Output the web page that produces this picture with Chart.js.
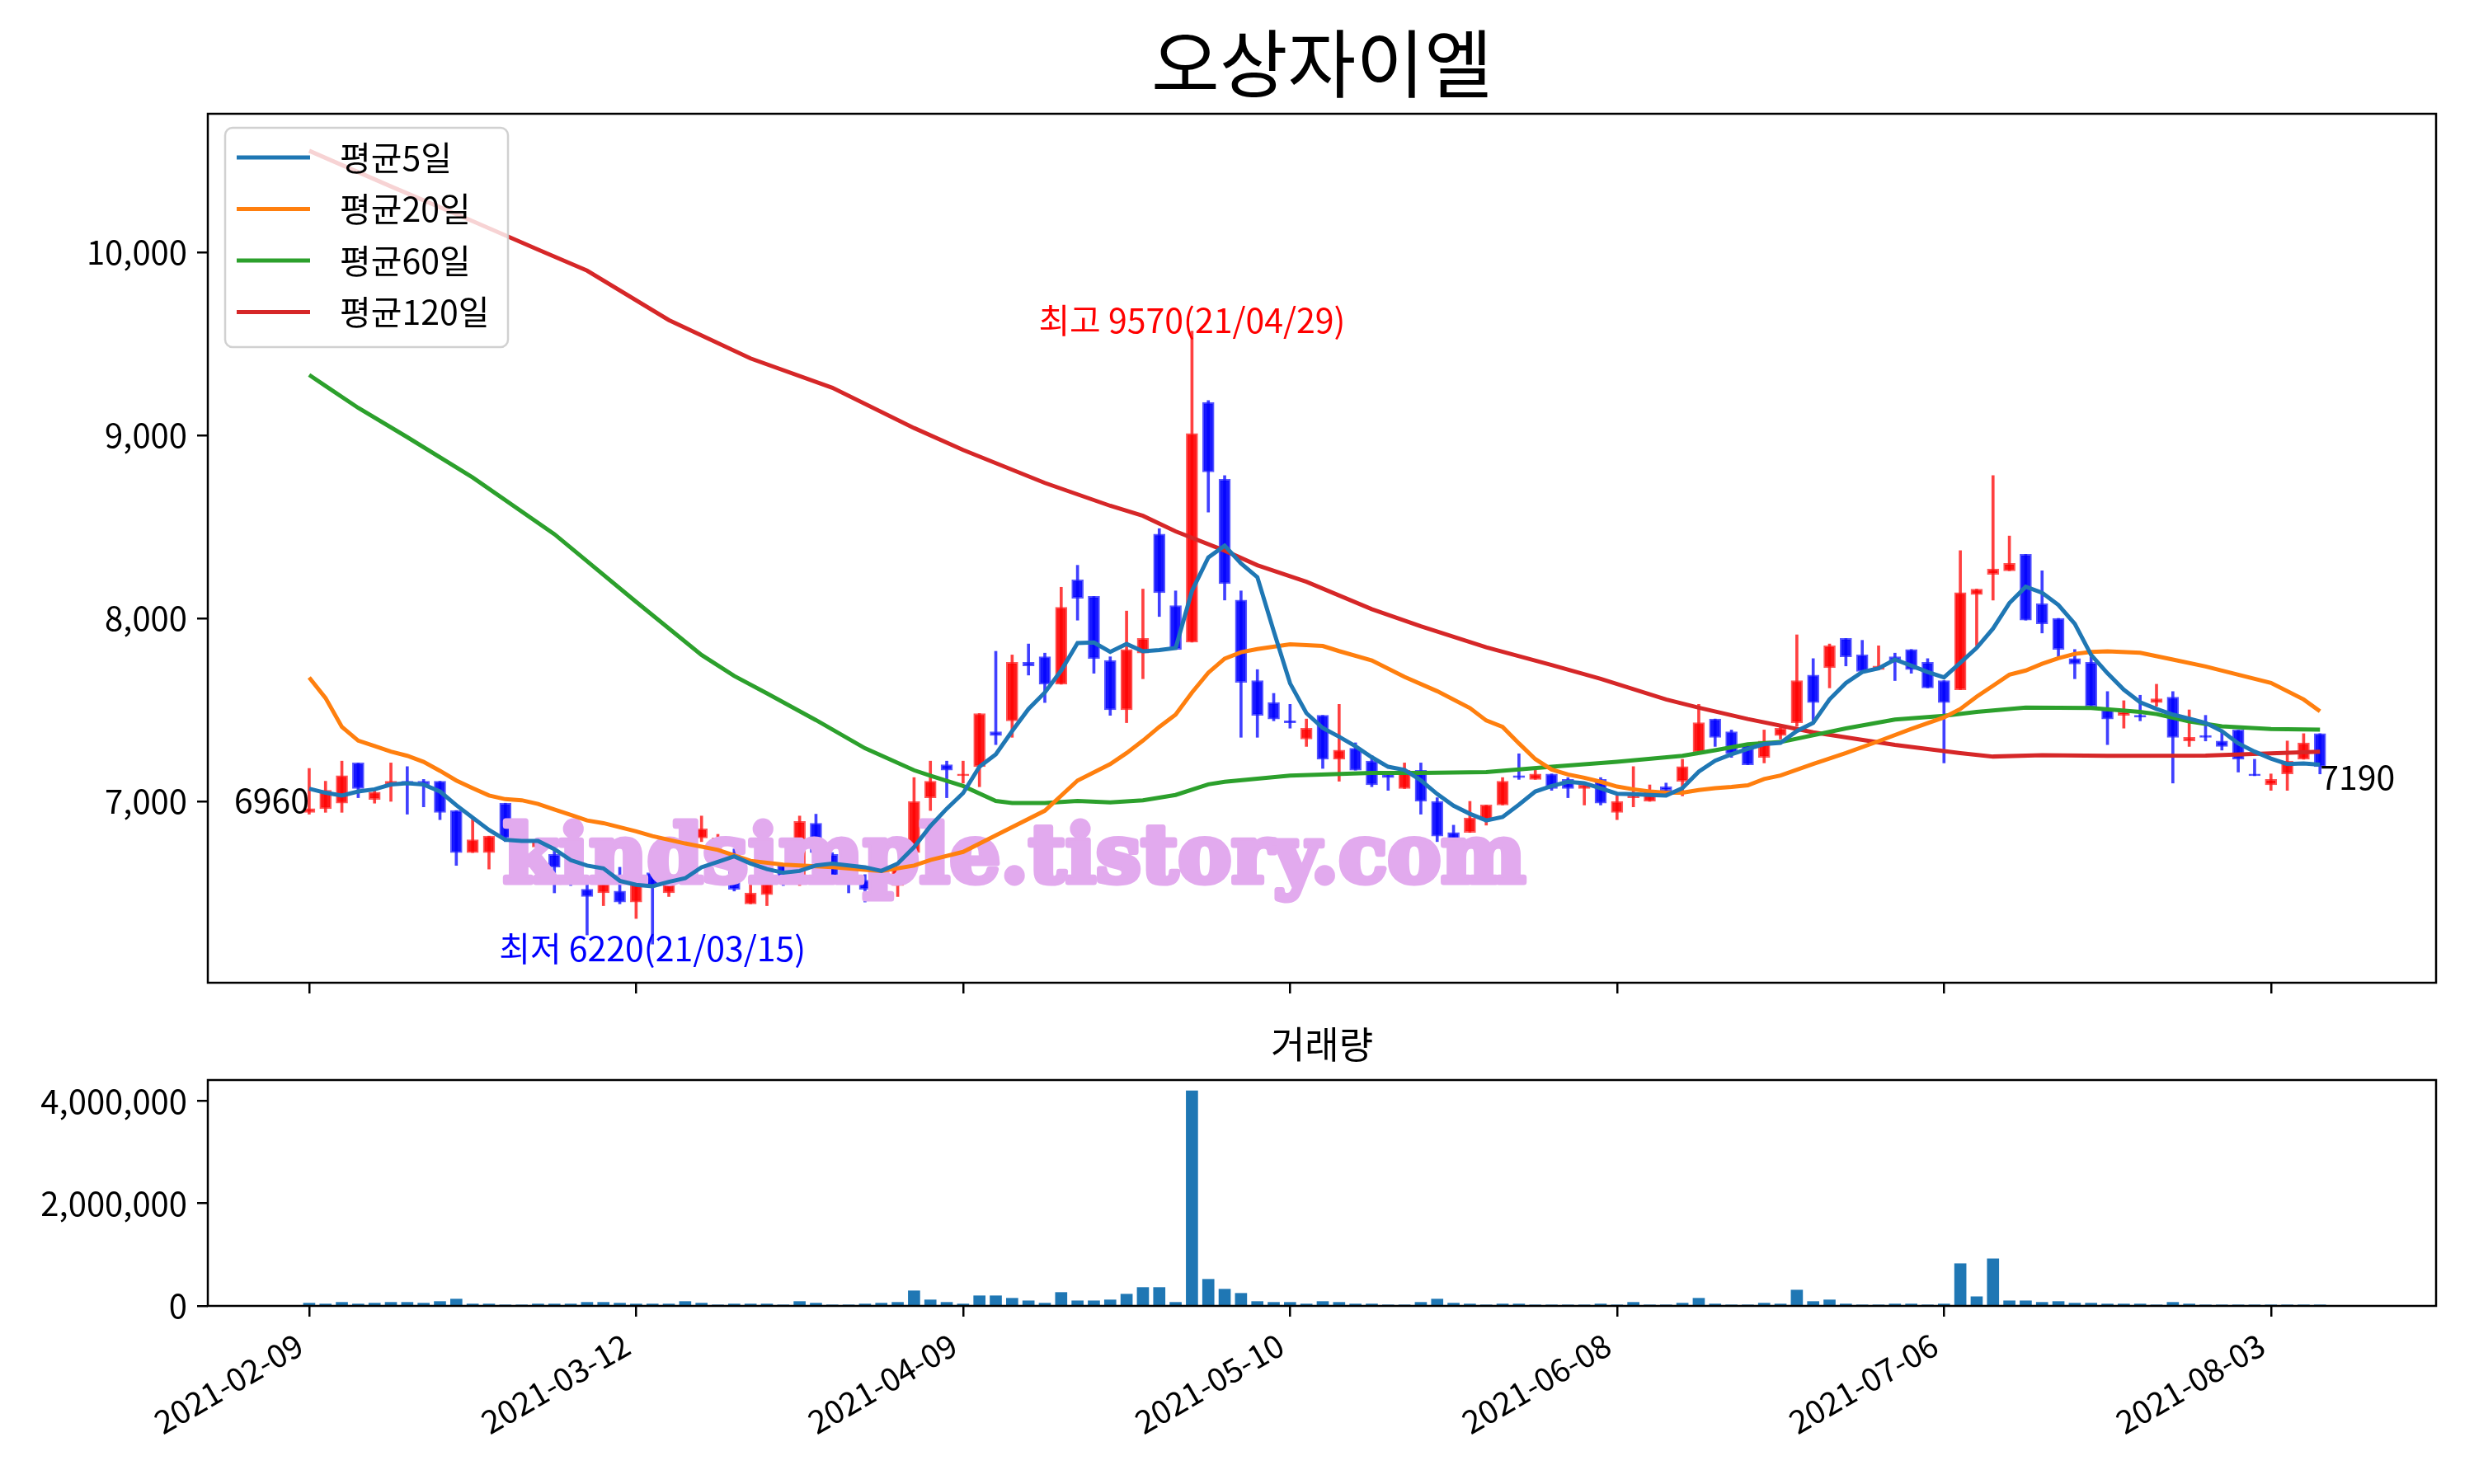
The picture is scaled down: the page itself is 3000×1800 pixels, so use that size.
<!DOCTYPE html>
<html>
<head>
<meta charset="utf-8">
<script src="https://cdn.jsdelivr.net/npm/chart.js@4.4.1/dist/chart.umd.min.js"></script>
<style>
  body { margin: 0; background: #fff; width: 3000px; height: 1800px; position: relative; overflow: hidden; }
  canvas { position: absolute; left: 0; }
  #price { top: 0; }
  #volume { top: 1230px; }
</style>
</head>
<body>
<canvas id="price" width="3000" height="1230"></canvas>
<canvas id="volume" width="3000" height="570"></canvas>
<script>
const FONT = '"Noto Sans CJK KR", "Noto Sans", sans-serif'

const tickIdx = [0, 20, 40, 60, 80, 100, 120]
const tickLabels = ["2021-02-09", "2021-03-12", "2021-04-09", "2021-05-10", "2021-06-08", "2021-07-06", "2021-08-03"]

const opens = [6940,6960,6990,7210,7010,7090,7110,7110,7110,6950, 6720,6720,6990,6720,6750,6710,6660,6520,6500,6510,
  6450,6610,6500,6560,6800,6760,6720,6440,6490,6650, 6550,6880,6710,6620,6570,6520,6540,6720,7020,7200,
  7140,7190,7380,7440,7760,7790,7640,8210,8120,7770, 7500,7810,8460,8070,7870,9180,8760,8100,7660,7540,
  7440,7340,7470,7230,7290,7220,7150,7070,7170,7000, 6830,6830,6900,6980,7140,7120,7150,7120,7070,7120,
  6940,7020,7000,7080,7110,7270,7450,7380,7310,7240, 7360,7430,7690,7730,7890,7800,7720,7790,7830,7760,
  7660,7610,8130,8240,8260,8350,8080,8000,7780,7760, 7500,7470,7470,7540,7570,7330,7360,7330,7390,7150,
  7090,7150,7230,7370]
const highs = [7180,7110,7220,7210,7070,7210,7190,7120,7110,6950, 6910,6810,6990,6900,6800,6730,6700,6570,6600,6640,
  6560,6620,6560,6650,6920,6820,6740,6560,6600,6660, 6920,6930,6720,6650,6600,6620,6660,7130,7220,7220,
  7220,7480,7820,7800,7860,7810,8170,8290,8120,7790, 8040,8160,8490,8150,9570,9190,8780,8150,7720,7590,
  7530,7450,7470,7530,7320,7250,7160,7210,7210,7020, 6870,7000,6980,7130,7260,7170,7150,7130,7100,7130,
  7030,7190,7090,7100,7230,7530,7450,7390,7310,7390, 7410,7910,7780,7860,7890,7880,7850,7810,7830,7780,
  7660,8370,8160,8780,8450,8350,8260,8000,7830,7790, 7600,7550,7580,7640,7600,7500,7470,7380,7390,7230,
  7150,7330,7370,7370]
const lows = [6930,6940,6940,7020,6990,7000,6930,6970,6900,6650, 6720,6630,6780,6700,6720,6500,6540,6270,6430,6440,
  6360,6220,6480,6550,6780,6740,6510,6440,6430,6540, 6540,6700,6560,6500,6450,6470,6480,6700,6950,7020,
  7100,7080,7310,7350,7690,7540,7640,7990,7700,7470, 7430,7670,8010,7830,7870,8580,8100,7350,7350,7440,
  7400,7300,7180,7110,7170,7080,7060,7070,6930,6780, 6710,6830,6870,6980,7120,7120,7060,7020,6980,6980,
  6900,6970,7000,7060,7030,7270,7300,7240,7200,7210, 7340,7410,7440,7620,7740,7710,7720,7660,7700,7620,
  7210,7610,7850,8100,8260,7990,7920,7790,7670,7520, 7310,7400,7440,7520,7100,7300,7330,7280,7160,7140,
  7060,7060,7230,7150]
const closes = [6960,7060,7140,7070,7050,7110,7090,7090,6940,6720, 6790,6810,6800,6780,6790,6640,6640,6480,6550,6450,
  6550,6540,6550,6590,6850,6800,6520,6500,6560,6560, 6890,6720,6590,6590,6520,6580,6640,7000,7110,7170,
  7150,7480,7360,7760,7740,7640,8060,8110,7780,7500, 7830,7890,8140,7830,9010,8800,8190,7650,7470,7450,
  7430,7400,7230,7280,7170,7090,7130,7170,7000,6810, 6780,6910,6980,7110,7130,7150,7070,7070,7090,6990,
  7000,7030,7060,7060,7190,7430,7350,7260,7200,7330, 7400,7660,7540,7850,7790,7710,7740,7770,7720,7620,
  7540,8140,8160,8270,8300,7990,7970,7830,7750,7520, 7450,7490,7460,7560,7350,7350,7350,7300,7230,7140,
  7120,7220,7320,7190]
const volumes = [54000,38000,70000,38000,54000,70000,70000,54000,86000,134000, 38000,38000,20000,20000,38000,38000,38000,70000,70000,54000,
  38000,38000,38000,86000,54000,20000,38000,38000,38000,10000, 86000,54000,20000,20000,38000,54000,70000,295000,118000,70000,
  38000,198000,198000,150000,100000,54000,263000,100000,100000,118000, 230000,360000,360000,70000,4200000,520000,327000,246000,86000,70000,
  70000,38000,86000,70000,38000,38000,20000,10000,70000,134000, 54000,38000,20000,38000,38000,10000,10000,20000,20000,38000,
  20000,70000,20000,20000,54000,150000,38000,20000,20000,54000, 38000,310000,86000,118000,38000,20000,20000,38000,38000,20000,
  38000,825000,180000,920000,100000,100000,70000,86000,54000,54000, 38000,38000,38000,10000,70000,38000,20000,10000,20000,20000,
  10000,20000,20000,10000]

// moving averages
const ma5 = [7069,7047,7032,7054,7066,7092,7099,7092,7054,6979, 6911,6844,6790,6784,6784,6739,6679,6649,6634,6566,
  6544,6536,6560,6580,6640,6670,6700,6660,6630,6610, 6620,6650,6660,6650,6640,6620,6660,6750,6865,6960,
  7045,7189,7257,7384,7505,7595,7715,7865,7868,7817, 7860,7820,7827,7838,8150,8333,8397,8300,8225,7930,
  7645,7482,7401,7353,7301,7241,7189,7172,7115,7040, 6976,6932,6896,6915,6982,7054,7084,7107,7099,7072,
  7042,7039,7035,7032,7072,7162,7222,7257,7287,7313, 7320,7384,7429,7557,7647,7707,7727,7775,7742,7707,
  7677,7757,7839,7944,8083,8173,8140,8073,7970,7800, 7700,7610,7542,7505,7474,7452,7429,7384,7317,7272,
  7234,7204,7207,7201]
const ma20Idx = [0,1,2,3,4,5,6,7,8,9,10,11,12,13,14,15,16,17,18,19,20,21,23,25,27,29,32,34,35,37,38,40,42,45,47,49,
  50,51,52,53,54,55,56,57,58,60,62,63,65,67,69,71,72,73,74,75,76,77,78,79,80,81,82,83,84,85,86,87,88,89,90,
  92,94,96,98,100,101,102,103,104,105,106,107,108,109,110,112,114,116,118,120,122,123]
const ma20Val = [7677,7565,7407,7332,7302,7272,7249,7216,7167,7114,7072,7032,7012,7006,6986,6956,6926,6896,6881,6859,6836,6810,
  6770,6735,6675,6654,6641,6626,6619,6649,6680,6724,6814,6949,7114,7204,
  7264,7332,7407,7474,7595,7703,7780,7815,7832,7858,7849,7821,7770,7680,7602,7510,
  7442,7407,7317,7231,7174,7147,7129,7107,7081,7066,7054,7047,7047,7062,7072,7079,7088,7122,7141,
  7204,7264,7329,7396,7459,7505,7572,7632,7692,7715,7752,7782,7806,7817,7820,7812,7775,7737,7692,7647,7557,7492]
const ma60Idx = [0,1,3,6,10,15,20,24,26,28,31,34,37,38,40,42,43,45,47,49,51,53,55,56,60,65,68,72,76,80,
  84,86,88,90,94,97,100,102,105,109,112,113,115,117,120,123]
const ma60Val = [9330,9270,9150,8990,8770,8460,8090,7800,7685,7590,7444,7290,7170,7140,7084,7002,6991,6991,7002,6994,
  7006,7035,7093,7107,7141,7155,7156,7160,7189,7216,7249,7279,7312,7324,7399,7447,7467,7489,7512,7510,
  7489,7477,7437,7410,7395,7392]
const ma120Idx = [0,5,10,14,17,22,27,32,37,40,45,49,51,53,56,58,61,65,68,72,76,79,83,85,88,92,97,101,103,106,110,116,120,123]
const ma120Val = [10555,10360,10170,10015,9900,9630,9420,9260,9040,8920,8740,8615,8560,8475,8370,8290,8200,8050,7957,7842,
  7745,7670,7557,7512,7450,7377,7309,7264,7245,7252,7249,7250,7262,7272]

const UP_FILL = "rgba(255, 0, 0, 0.9)"
const UP_EDGE = "rgba(255, 30, 30, 0.75)"
const DOWN_FILL = "rgba(0, 0, 255, 0.9)"
const DOWN_EDGE = "rgba(30, 30, 255, 0.75)"

const isUp = opens.map((o, i) => closes[i] >= o)
const toPoints = (idx, vals) => idx.map((x, k) => ({ x, y: vals[k] }))
const fmt = (v) => Number(v).toLocaleString("en-US")

const lineSet = (label, data, color) => ({
  type: "line",
  label,
  data,
  borderColor: color,
  borderWidth: 5,
  pointRadius: 0,
  tension: 0,
  fill: false,
  order: 0,
})

const frame = {
  id: "frame",
  afterDraw(chart) {
    const { ctx, chartArea: a } = chart
    ctx.save()
    ctx.strokeStyle = "#000"
    ctx.lineWidth = 2.5
    ctx.strokeRect(a.left, a.top, a.right - a.left, a.bottom - a.top)
    ctx.restore()
  },
}

const priceDecor = {
  id: "priceDecor",
  afterDatasetDraw(chart, args) {
    // watermark goes over the candles, under the average lines
    if (args.meta.label !== "body") return
    const { ctx } = chart
    const text = "kindsimple.tistory.com"
    ctx.save()
    let size = 90
    ctx.font = `bold ${size}px "DejaVu Serif", serif`
    size = size * 1240 / ctx.measureText(text).width
    ctx.font = `bold ${size}px "DejaVu Serif", serif`
    ctx.textBaseline = "alphabetic"
    ctx.textAlign = "left"
    ctx.fillStyle = "rgb(226, 170, 238)"
    ctx.strokeStyle = "rgb(226, 170, 238)"
    ctx.lineWidth = 7
    ctx.lineJoin = "round"
    ctx.strokeText(text, 610, 1070)
    ctx.fillText(text, 610, 1070)
    ctx.restore()
  },
  afterDraw(chart) {
    const { ctx, chartArea: a, scales } = chart
    ctx.save()
    // title
    ctx.fillStyle = "#000"
    ctx.font = `90px ${FONT}`
    ctx.textAlign = "center"
    ctx.textBaseline = "middle"
    ctx.fillText("오상자이엘", (a.left + a.right) / 2, 77)

    // annotations
    const notes = [
      { text: "6960", i: 0, p: closes[0], color: "#000", align: "right", dy: -10 },
      { text: "7190", i: 123, p: closes[123], color: "#000", align: "left", dy: 13 },
      { text: "최고 9570(21/04/29)", i: 54, p: 9570, color: "#ff0000", align: "center", dy: -13 },
      { text: "최저 6220(21/03/15)", i: 21, p: 6220, color: "#0000ff", align: "center", dy: 5 },
    ]
    ctx.font = `41px ${FONT}`
    notes.forEach((n) => {
      ctx.fillStyle = n.color
      ctx.textAlign = n.align
      ctx.fillText(n.text, scales.x.getPixelForValue(n.i), scales.y.getPixelForValue(n.p) + n.dy)
    })

    // legend
    const lines = chart.data.datasets.filter((d) => d.type === "line")
    const bx = a.left + 21, by = a.top + 17, bw = 343, bh = 266
    ctx.beginPath()
    ctx.roundRect(bx, by, bw, bh, 9)
    ctx.fillStyle = "rgba(255, 255, 255, 0.8)"
    ctx.fill()
    ctx.strokeStyle = "rgba(204, 204, 204, 0.9)"
    ctx.lineWidth = 2.5
    ctx.stroke()
    ctx.font = `41px ${FONT}`
    ctx.textAlign = "left"
    ctx.textBaseline = "middle"
    lines.forEach((d, k) => {
      const y = by + 36 + k * 62.5
      ctx.strokeStyle = d.borderColor
      ctx.lineWidth = 5
      ctx.beginPath()
      ctx.moveTo(bx + 14, y)
      ctx.lineTo(bx + 103, y)
      ctx.stroke()
      ctx.fillStyle = "#000"
      ctx.fillText(d.label, bx + 139, y)
    })
    ctx.restore()
  },
}

const volumeDecor = {
  id: "volumeDecor",
  afterDraw(chart) {
    const { ctx, chartArea: a, scales } = chart
    ctx.save()
    ctx.fillStyle = "#000"
    ctx.font = `45px ${FONT}`
    ctx.textAlign = "center"
    ctx.textBaseline = "middle"
    ctx.fillText("거래량", (a.left + a.right) / 2, 37)

    // date labels rotated 30 degrees, top-right corner of each label under its tick
    ctx.font = `39px ${FONT}`
    ctx.textAlign = "right"
    ctx.textBaseline = "top"
    const top = a.bottom + 13 + 14
    tickIdx.forEach((v, k) => {
      const x = scales.x.getPixelForValue(v)
      ctx.save()
      ctx.translate(x - 21, top)
      ctx.rotate(-Math.PI / 6)
      ctx.fillText(tickLabels[k], 0, 0)
      ctx.restore()
    })
    ctx.restore()
  },
}

const tickGrid = { drawOnChartArea: false, drawTicks: true, tickLength: 13, color: "#000", lineWidth: 2.5, offset: false }
const tickFont = { family: FONT, size: 40 }

new Chart(document.getElementById("price"), {
  type: "bar",
  data: {
    datasets: [
      lineSet("평균5일", ma5.map((y, x) => ({ x, y })), "#1f77b4"),
      lineSet("평균20일", toPoints(ma20Idx, ma20Val), "#ff7f0e"),
      lineSet("평균60일", toPoints(ma60Idx, ma60Val), "#2ca02c"),
      lineSet("평균120일", toPoints(ma120Idx, ma120Val), "#d62728"),
      {
        type: "bar",
        label: "body",
        data: opens.map((o, i) => ({ x: i, y: [o, closes[i]] })),
        backgroundColor: isUp.map((u) => (u ? UP_FILL : DOWN_FILL)),
        borderColor: isUp.map((u) => (u ? UP_EDGE : DOWN_EDGE)),
        borderWidth: 2,
        borderSkipped: false,
        barThickness: 14,
        grouped: false,
        order: 1,
      },
      {
        type: "bar",
        label: "wick",
        data: lows.map((l, i) => ({ x: i, y: [l, highs[i]] })),
        backgroundColor: isUp.map((u) => (u ? "rgba(255, 0, 0, 0.75)" : "rgba(0, 0, 255, 0.75)")),
        barThickness: 3,
        grouped: false,
        order: 2,
      },
    ],
  },
  options: {
    responsive: false,
    animation: false,
    devicePixelRatio: 1,
    events: [],
    layout: { padding: { top: 138, right: 46, left: 0, bottom: 0 } },
    plugins: { legend: { display: false }, tooltip: { enabled: false } },
    scales: {
      x: {
        type: "linear",
        offset: false,
        min: -6.2,
        max: 130.1,
        afterBuildTicks: (s) => { s.ticks = tickIdx.map((value) => ({ value })) },
        ticks: { display: false },
        grid: tickGrid,
        border: { display: false },
        afterFit: (s) => { s.height = 38 },
      },
      y: {
        min: 6009,
        max: 10757,
        afterBuildTicks: (s) => { s.ticks = [7000, 8000, 9000, 10000].map((value) => ({ value })) },
        ticks: { callback: fmt, font: tickFont, color: "#000", padding: 12 },
        grid: tickGrid,
        border: { display: false },
        afterFit: (s) => { s.width = 252 },
      },
    },
  },
  plugins: [priceDecor, frame],
})

new Chart(document.getElementById("volume"), {
  type: "bar",
  data: {
    datasets: [
      {
        label: "거래량",
        data: volumes.map((y, x) => ({ x, y })),
        backgroundColor: "#1f77b4",
        barThickness: 14,
      },
    ],
  },
  options: {
    responsive: false,
    animation: false,
    devicePixelRatio: 1,
    events: [],
    layout: { padding: { top: 80, right: 46, left: 0, bottom: 0 } },
    plugins: { legend: { display: false }, tooltip: { enabled: false } },
    scales: {
      x: {
        type: "linear",
        offset: false,
        min: -6.2,
        max: 130.1,
        afterBuildTicks: (s) => { s.ticks = tickIdx.map((value) => ({ value })) },
        ticks: { display: false },
        grid: tickGrid,
        border: { display: false },
        afterFit: (s) => { s.height = 216 },
      },
      y: {
        min: 0,
        max: 4410000,
        afterBuildTicks: (s) => { s.ticks = [0, 2000000, 4000000].map((value) => ({ value })) },
        ticks: { callback: fmt, font: tickFont, color: "#000", padding: 12 },
        grid: tickGrid,
        border: { display: false },
        afterFit: (s) => { s.width = 252 },
      },
    },
  },
  plugins: [volumeDecor, frame],
})
</script>
</body>
</html>
